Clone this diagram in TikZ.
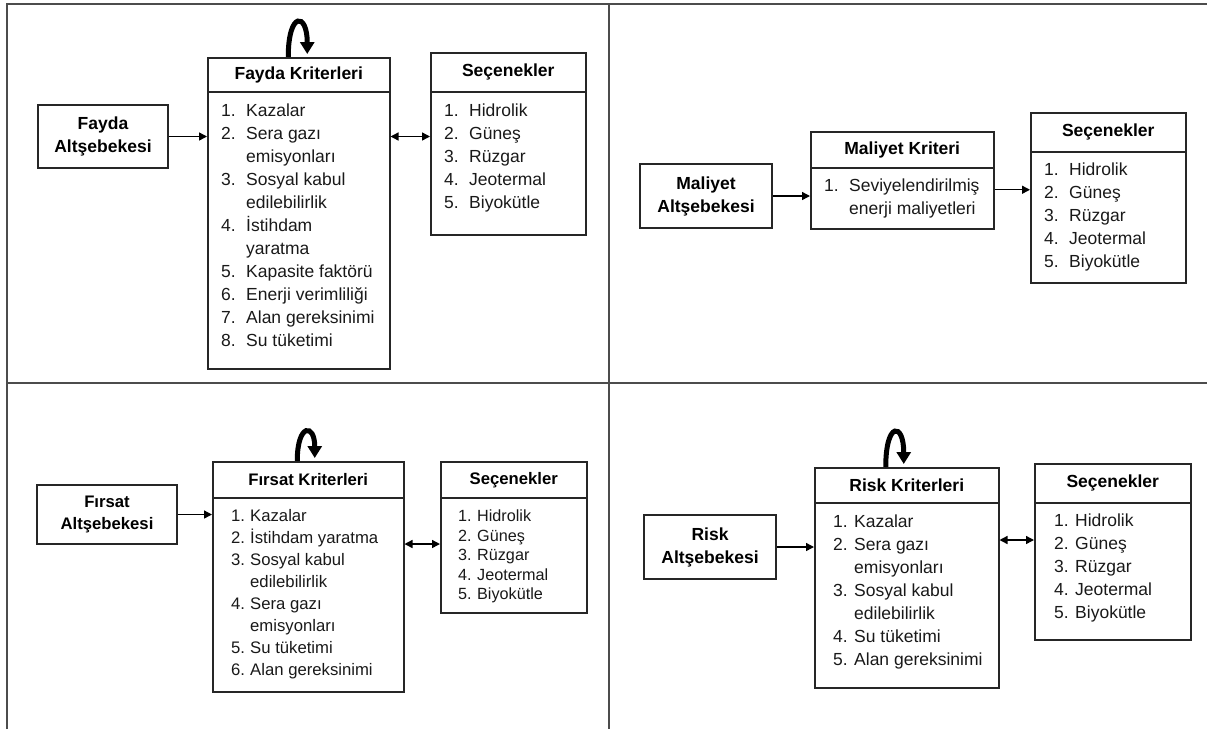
\documentclass[tikz,border=0pt]{standalone}
\usepackage{fontspec}
\setmainfont{Liberation Sans}
\usepackage{tikz}
\usetikzlibrary{positioning,arrows.meta,calc}
\newcommand{\kalemler}[2][25pt]{\begin{tabular}{@{}p{#1}@{}l@{}}#2\end{tabular}}

\begin{document}
\begin{tikzpicture}[
  x=1pt, y=-1pt,
  >={Triangle[length=8pt,width=8pt]},
  font=\fontsize{17.5}{23}\selectfont,
  cerceve/.style={draw=black!70, line width=2pt},
  altag/.style={
    rectangle, draw=black!85, line width=1.5pt, align=center, inner sep=0pt,
    font=\bfseries\fontsize{17.5}{23}\selectfont
  },
  kutu/.style={
    rectangle, draw=black!85, line width=1.5pt, anchor=north west, inner sep=0pt
  },
  baslik/.style={kutu, font=\bfseries\fontsize{17.5}{23}\selectfont},
  liste/.style={anchor=north west, inner sep=0pt, text=black!90},
  ok/.style={->, line width=1.4pt},
  dongu/.style={-{Triangle[length=12pt,width=14pt]}, line width=5pt}
]
\useasboundingbox (0,0) rectangle (1207,729);

% frame
\draw[cerceve] (7,729) -- (7,4) -- (1207,4);
\draw[cerceve] (609,4) -- (609,729);
\draw[cerceve] (7,383) -- (1207,383);

% fayda
\node[altag, minimum width=130pt, minimum height=63pt] (fa) at (103,136.5) {Fayda\\Altşebekesi};
\node[kutu, minimum width=182pt, minimum height=311pt] (fk) at (207,57) {};
\node[baslik, minimum width=182pt, minimum height=34pt] (fkb) at (fk.north west) {Fayda Kriterleri};
\node[liste] (fkl) at ($(fkb.south west)+(14,8)$) {\kalemler{
  1. & Kazalar\\ 2. & Sera gazı\\ & emisyonları\\ 3. & Sosyal kabul\\ & edilebilirlik\\
  4. & İstihdam\\ & yaratma\\ 5. & Kapasite faktörü\\ 6. & Enerji verimliliği\\
  7. & Alan gereksinimi\\ 8. & Su tüketimi}};
\node[kutu, minimum width=155pt, minimum height=182pt] (s1) at (430,52) {};
\node[baslik, minimum width=155pt, minimum height=39pt] (s1b) at (s1.north west) {Seçenekler};
\node[liste] (s1l) at ($(s1b.south west)+(14,8)$) {\kalemler{
  1. & Hidrolik\\ 2. & Güneş\\ 3. & Rüzgar\\ 4. & Jeotermal\\ 5. & Biyokütle}};
\draw[ok] (fa.east) -- (fa.east -| fk.west);
\draw[ok, <->] (fa.east -| fk.east) -- (fa.east -| s1.west);
\draw[dongu] ($(fkb.north)+(-10.5,0)$) .. controls +(0,-46) and +(0,-42) .. ($(fkb.north)+(8.5,-3)$);

% maliyet
\node[altag, minimum width=132pt, minimum height=64pt] (ma) at (706,196) {Maliyet\\Altşebekesi};
\node[kutu, minimum width=183pt, minimum height=97pt] (mk) at (810,131) {};
\node[baslik, minimum width=183pt, minimum height=36pt] (mkb) at (mk.north west) {Maliyet Kriteri};
\node[liste] (mkl) at ($(mkb.south west)+(14,7)$) {\kalemler{
  1. & Seviyelendirilmiş\\ & enerji maliyetleri}};
\node[kutu, minimum width=155pt, minimum height=170pt] (s2) at (1030,112) {};
\node[baslik, minimum width=155pt, minimum height=39pt] (s2b) at (s2.north west) {Seçenekler};
\node[liste] (s2l) at ($(s2b.south west)+(14,7)$) {\kalemler{
  1. & Hidrolik\\ 2. & Güneş\\ 3. & Rüzgar\\ 4. & Jeotermal\\ 5. & Biyokütle}};
\coordinate (m1) at ($(mk.east)+(0,9.5)$);
\draw[ok] (ma.east) -- (ma.east -| mk.west);
\draw[ok] (m1) -- (m1 -| s2.west);

% firsat
\node[altag, minimum width=140pt, minimum height=59pt, font=\bfseries\fontsize{16.7}{22}\selectfont] (fra) at (107,514.5) {Fırsat\\Altşebekesi};
\node[kutu, minimum width=191pt, minimum height=230pt] (frk) at (212,461) {};
\node[baslik, minimum width=191pt, minimum height=36pt, font=\bfseries\fontsize{16.7}{22}\selectfont] (frkb) at (frk.north west) {Fırsat Kriterleri};
\node[liste, font=\fontsize{16.7}{22}\selectfont] (frkl) at ($(frkb.south west)+(19,7.6)$) {\kalemler[19pt]{
  1. & Kazalar\\ 2. & İstihdam yaratma\\ 3. & Sosyal kabul\\ & edilebilirlik\\
  4. & Sera gazı\\ & emisyonları\\ 5. & Su tüketimi\\ 6. & Alan gereksinimi}};
\node[kutu, minimum width=146pt, minimum height=151pt] (s3) at (440,461) {};
\node[baslik, minimum width=146pt, minimum height=36pt, font=\bfseries\fontsize{16.7}{22}\selectfont] (s3b) at (s3.north west) {Seçenekler};
\node[liste, font=\fontsize{16.2}{19.5}\selectfont] (s3l) at ($(s3b.south west)+(18,9.4)$) {\kalemler[19pt]{
  1. & Hidrolik\\ 2. & Güneş\\ 3. & Rüzgar\\ 4. & Jeotermal\\ 5. & Biyokütle}};
\coordinate (f1) at ($(fra.east)+(0,29.5)$);
\draw[ok] (fra.east) -- (fra.east -| frk.west);
\draw[ok, <->] (f1 -| frk.east) -- (f1 -| s3.west);
\draw[dongu] ($(frkb.north)+(-11,0)$) .. controls +(0,-38) and +(0,-35) .. ($(frkb.north)+(6.5,-3)$);

% risk
\node[altag, minimum width=132pt, minimum height=64pt] (ra) at (710,547) {Risk\\Altşebekesi};
\node[kutu, minimum width=184pt, minimum height=220pt] (rk) at (814,467) {};
\node[baslik, minimum width=184pt, minimum height=35pt] (rkb) at (rk.north west) {Risk Kriterleri};
\node[liste] (rkl) at ($(rkb.south west)+(19,8)$) {\kalemler[21pt]{
  1. & Kazalar\\ 2. & Sera gazı\\ & emisyonları\\ 3. & Sosyal kabul\\ & edilebilirlik\\
  4. & Su tüketimi\\ 5. & Alan gereksinimi}};
\node[kutu, minimum width=156pt, minimum height=176pt] (s4) at (1034,463) {};
\node[baslik, minimum width=156pt, minimum height=39pt] (s4b) at (s4.north west) {Seçenekler};
\node[liste] (s4l) at ($(s4b.south west)+(20,7)$) {\kalemler[21pt]{
  1. & Hidrolik\\ 2. & Güneş\\ 3. & Rüzgar\\ 4. & Jeotermal\\ 5. & Biyokütle}};
\coordinate (r1) at ($(ra.east)+(0,-7)$);
\draw[ok] (ra.east) -- (ra.east -| rk.west);
\draw[ok, <->] (r1 -| rk.east) -- (r1 -| s4.west);
\draw[dongu] ($(rkb.north)+(-21,0)$) .. controls +(0,-46) and +(0,-42) .. ($(rkb.north)+(-3,-3)$);

\end{tikzpicture}
\end{document}
